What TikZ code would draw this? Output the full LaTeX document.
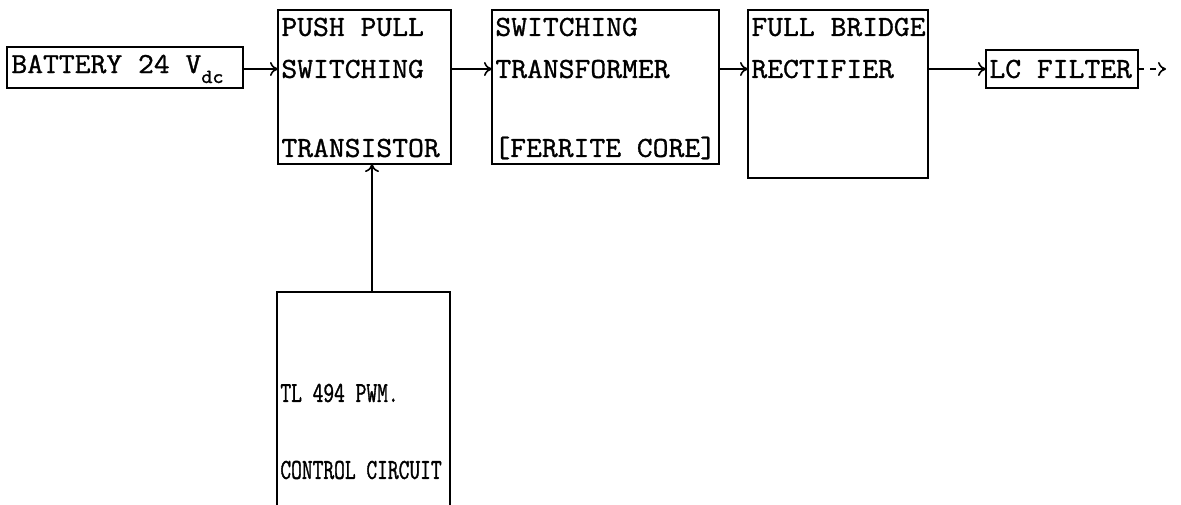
\documentclass[tikz,border=0pt]{standalone}
\usepackage{fontspec}
\usetikzlibrary{arrows.meta}
\newfontfamily\boxfont{Latin Modern Mono}[FakeStretch=1.06,FakeBold=1.2]
\newfontfamily\ctlfont{Latin Modern Mono}[FakeStretch=0.72,FakeBold=1.2]
\begin{document}
\begin{tikzpicture}[x=0.5pt,y=-0.5pt,
  blk/.style={draw, line width=0.9pt, inner sep=0pt, outer sep=0pt},
  lbl/.style={anchor=west, inner sep=0pt, font=\boxfont\fontsize{14.5pt}{16pt}\selectfont},
  clbl/.style={anchor=west, inner sep=0pt, font=\ctlfont\fontsize{14.5pt}{16pt}\selectfont},
  conn/.style={draw, line width=0.8pt, -{To[length=4pt,width=7pt]}},
]
\useasboundingbox (0,0) rectangle (1181,504);
% blocks
\node[blk, minimum width=118pt, minimum height=20.5pt] (bat) at (125,67.5) {};
\node[blk, minimum width=86.5pt, minimum height=77pt] (pp) at (364.5,87) {};
\node[blk, minimum width=113.5pt, minimum height=77pt] (st) at (605.5,87) {};
\node[blk, minimum width=90pt, minimum height=84pt] (fb) at (838,94) {};
\node[blk, minimum width=76pt, minimum height=19pt] (lc) at (1062,69) {};
\node[blk, minimum width=86.5pt, minimum height=114pt] (ctl) at (363.5,406) {};
% labels
\node[lbl] (t1) at (11,69) {BATTERY 24 V\raisebox{-5pt}{\fontsize{10pt}{10pt}\selectfont dc}};
\node[lbl] (t2) at (281,27) {PUSH PULL};
\node[lbl] (t3) at (281,69) {SWITCHING};
\node[lbl] (t4) at (281,148) {TRANSISTOR};
\node[lbl] (t5) at (495,27) {SWITCHING};
\node[lbl] (t6) at (495,69) {TRANSFORMER};
\node[lbl] (t7) at (494,148) {[FERRITE CORE]};
\node[lbl] (t8) at (751,27) {FULL BRIDGE};
\node[lbl] (t9) at (751,69) {RECTIFIER};
\node[lbl] (t10) at (989,69) {LC FILTER};
\node[clbl] (t11) at (280,393) {TL 494 PWM.};
\node[clbl] (t12) at (280,470) {CONTROL CIRCUIT};
% connectors
\coordinate (out) at (1166,69);
\draw[conn] (bat.east |- t3.west) -- (pp.west |- t3.west);
\draw[conn] (pp.east |- t3.west) -- (st.west |- t3.west);
\draw[conn] (st.east |- t3.west) -- (fb.west |- t3.west);
\draw[conn] (fb.east |- t3.west) -- (lc.west |- t3.west);
\draw[conn, dashed] (lc.east) -- (out);
\draw[conn] ([xshift=4.25pt]ctl.north) -- ([xshift=4.25pt]ctl.north |- pp.south);
\end{tikzpicture}
\end{document}
